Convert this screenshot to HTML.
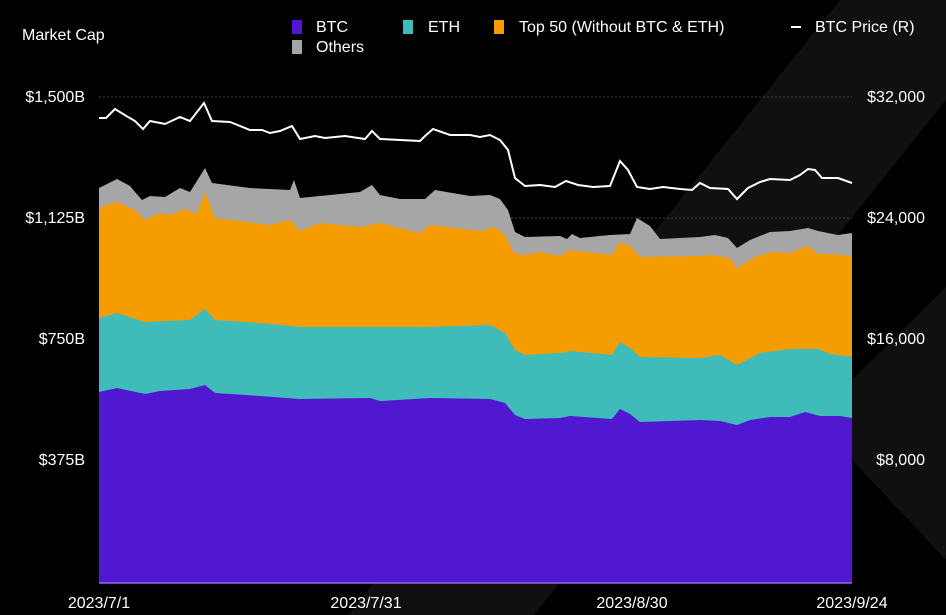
<!DOCTYPE html><html><head><style>body{margin:0;background:#000;}svg{display:block;font-family:"Liberation Sans",sans-serif;}</style></head><body>
<svg width="946" height="615" viewBox="0 0 946 615">
<rect width="946" height="615" fill="#000"/>
<polygon points="840,0 946,0 946,100 534,615 348,615" fill="#101010"/>
<polygon points="946,287 852,380 852,460 946,560" fill="#101010"/>
<line x1="99" y1="97" x2="852" y2="97" stroke="#444" stroke-dasharray="2,2"/>
<line x1="99" y1="218" x2="852" y2="218" stroke="#444" stroke-dasharray="2,2"/>
<polygon fill="#a6a6a6" points="99,188 105,185 117,179 130,186 135,192 142,200 150,196 165,197 180,188 190,192 205,168 212,183 250,188 290,190 294,180 300,198 330,195 360,192 372,185 380,195 400,199 425,199 435,190 470,196 490,195 500,199 508,210 515,232 525,237 560,236 567,239 572,234 580,238 610,235 630,234 637,218 650,226 660,239 700,237 715,235 728,238 737,248 750,240 770,232 790,231 808,228 818,231 838,235 852,233 852,583 99,583"/>
<polygon fill="#f59c00" points="99,210 103,206 117,202 135,210 145,220 160,213 170,215 185,209 197,214 205,192 215,218 270,225 290,220 300,231 320,223 360,227 380,223 420,233 430,225 480,231 495,227 505,235 514,253 525,255 540,252 560,256 570,250 612,255 620,242 630,246 640,257 700,256 710,255 730,258 737,268 755,257 772,252 790,253 808,246 818,254 830,254 852,256 852,583 99,583"/>
<polygon fill="#3fbcb9" points="99,318 117,313 145,322 190,320 205,309 215,320 260,323 300,327 430,327 490,325 505,333 515,350 525,355 560,353 570,351 612,355 620,342 630,348 640,357 700,358 720,355 737,365 760,353 790,349 818,349 830,354 852,357 852,583 99,583"/>
<polygon fill="#5118d1" points="99,392 117,388 145,394 160,391 190,389 205,385 215,393 260,396 300,399 370,398 380,401 430,398 490,399 505,403 515,415 525,419 560,418 570,416 612,419 620,409 630,414 640,422 700,420 720,421 737,425 750,420 770,417 790,417 805,412 820,416 840,416 852,418 852,583 99,583"/>
<line x1="99" y1="583" x2="852" y2="583" stroke="#8a6ee0" stroke-width="1.5"/>
<polyline fill="none" stroke="#fff" stroke-width="2" points="99,118 106,118 115,109 128,117 135,121 143,129 150,121 165,124 180,117 190,121 204,103 212,121 230,122 240,126 250,130 262,130 270,133 280,131 292,126 300,139 315,136 325,138 345,136 365,139 372,131 380,139 400,140 420,141 425,136 433,129 450,135 470,135 480,137 490,135 500,140 508,150 515,178 525,186 540,185 555,187 566,181 578,185 593,187 610,186 620,161 628,170 637,187 650,189 663,187 680,189 692,190 700,183 710,188 728,189 737,199 748,188 760,182 770,179 790,180 800,175 808,169 815,170 822,178 838,178 852,183"/>
<g fill="#fff" font-size="16">
<text x="22" y="40">Market Cap</text>
<rect x="292" y="20" width="10" height="14" fill="#5118d1"/><text x="316" y="32">BTC</text>
<rect x="292" y="40" width="10" height="14" fill="#a6a6a6"/><text x="316" y="52">Others</text>
<rect x="403" y="20" width="10" height="14" fill="#3fbcb9"/><text x="428" y="32">ETH</text>
<rect x="494" y="20" width="10" height="14" fill="#f59c00"/><text x="519" y="32">Top 50 (Without BTC &amp; ETH)</text>
<rect x="791" y="26" width="10" height="2" fill="#fff"/><text x="815" y="32">BTC Price (R)</text>
<g text-anchor="end"><text x="85" y="102">$1,500B</text><text x="85" y="223">$1,125B</text><text x="85" y="344">$750B</text><text x="85" y="465">$375B</text></g>
<g text-anchor="end"><text x="925" y="102">$32,000</text><text x="925" y="223">$24,000</text><text x="925" y="344">$16,000</text><text x="925" y="465">$8,000</text></g>
<g text-anchor="middle"><text x="99" y="608">2023/7/1</text><text x="366" y="608">2023/7/31</text><text x="632" y="608">2023/8/30</text><text x="852" y="608">2023/9/24</text></g>
</g>
</svg></body></html>
